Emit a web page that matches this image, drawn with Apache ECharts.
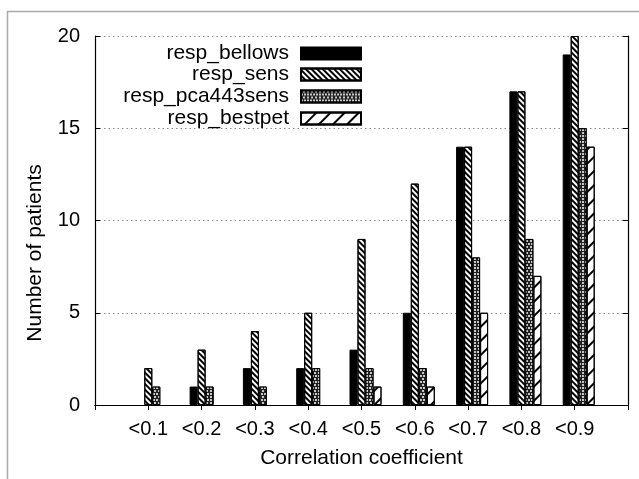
<!DOCTYPE html>
<html lang="en">
<head>
    <meta charset="UTF-8">
    <title>Correlation coefficient histogram</title>
    <script src="https://cdn.jsdelivr.net/npm/echarts@6/dist/echarts.min.js"></script>
</head>
<body style="margin:0">
    <div id="main" style="width: 639px; height: 479px;"></div>
</body>
<script>
    // empty slots at both ends keep the plot one slot wider on each side
    var categories = ['', '<0.1', '<0.2', '<0.3', '<0.4', '<0.5', '<0.6', '<0.7', '<0.8', '<0.9', ''];
    var names = ['resp_bellows', 'resp_sens', 'resp_pca443sens', 'resp_bestpet'];
    var bellows = [null, 0, 1, 2, 2, 3, 5, 14, 17, 19, null];
    var sens = [null, 2, 3, 4, 5, 9, 12, 14, 17, 20, null];
    var pca = [null, 1, 1, 1, 2, 2, 2, 8, 9, 15, null];
    var bestpet = [null, 0, 0, 0, 0, 1, 1, 5, 7, 14, null];
    var yTicks = [0, 5, 10, 15, 20];

    var font = '"Liberation Sans", Arial, sans-serif';
    var myChart = echarts.init(document.getElementById('main'));

    var styles = [
        { color: '#000', borderColor: '#000', borderWidth: 1 },
        { color: '#fff', borderColor: '#000', borderWidth: 1,
          decal: { symbol: 'rect', color: '#000', dashArrayX: [1, 0], dashArrayY: [1.2, 1.8], symbolSize: 1, rotation: Math.PI / 4 } },
        { color: '#222', borderColor: '#000', borderWidth: 1,
          decal: { symbol: 'circle', color: '#fff', dashArrayX: [[2, 1], [0, 1.5, 2, 0]], dashArrayY: [2, 0.7], symbolSize: 1, rotation: 0 } },
        { color: '#fff', borderColor: '#000', borderWidth: 1,
          decal: { symbol: 'rect', color: '#000', dashArrayX: [1, 0], dashArrayY: [1.1, 7.8], symbolSize: 1, rotation: -Math.PI / 4 } }
    ];
    var values = [bellows, sens, pca, bestpet];

    // first series is an empty spacer so the groups sit like the original
    var series = [{ name: 'spacer', type: 'bar', data: [], barWidth: 8, barGap: '0%' }];
    var legends = [];
    var rowTop = [43, 64, 86, 108];
    names.forEach(function (n, i) {
        series.push({
            name: n,
            type: 'bar',
            // zero counts draw nothing
            data: values[i].map(function (v) { return v === 0 ? null : v; }),
            barWidth: 8,
            barGap: '0%',
            itemStyle: styles[i]
        });
        legends.push({
            data: [n],
            right: 277,
            top: rowTop[i],
            padding: 0,
            itemWidth: 60,
            itemHeight: 12,
            icon: 'rect',
            selectedMode: false,
            textStyle: { fontFamily: font, fontSize: 21, color: '#000', padding: [0, 7, 0, 0] },
            align: 'right'
        });
    });

    var option = {
        animation: false,
        backgroundColor: '#fff',
        grid: { left: 95, right: 11, top: 36, bottom: 74 },
        legend: legends,
        xAxis: [{
            type: 'category',
            data: categories,
            boundaryGap: false,
            axisLine: { lineStyle: { color: '#000', width: 1.2 } },
            axisTick: { inside: true, length: 5, lineStyle: { color: '#000' } },
            axisLabel: { fontFamily: font, fontSize: 20, color: '#000', margin: 14, interval: 0 },
            name: 'Correlation coefficient',
            nameLocation: 'middle',
            nameGap: 43,
            nameTextStyle: { fontFamily: font, fontSize: 21, color: '#000', verticalAlign: 'top' }
        }, {
            type: 'category',
            data: categories,
            position: 'top',
            boundaryGap: false,
            axisLine: { lineStyle: { color: '#000', width: 1.2 } },
            axisTick: { inside: true, length: 5, lineStyle: { color: '#000' } },
            axisLabel: { show: false }
        }],
        yAxis: [{
            type: 'value',
            min: yTicks[0],
            max: yTicks[yTicks.length - 1],
            interval: 5,
            axisLine: { show: true, lineStyle: { color: '#000', width: 1.2 } },
            axisTick: { show: true, inside: true, length: 5, lineStyle: { color: '#000' } },
            axisLabel: { fontFamily: font, fontSize: 20, color: '#000', margin: 15 },
            splitLine: { lineStyle: { color: '#888', type: [1.5, 3], width: 1 } }
        }, {
            type: 'value',
            min: yTicks[0],
            max: yTicks[yTicks.length - 1],
            interval: 5,
            position: 'right',
            axisLine: { show: true, lineStyle: { color: '#000', width: 1.2 } },
            axisTick: { show: true, inside: true, length: 5, lineStyle: { color: '#000' } },
            axisLabel: { show: false },
            splitLine: { show: false }
        }],
        graphic: [{
            type: 'rect',
            shape: { x: 7.5, y: 11.5, width: 700, height: 600 },
            style: { fill: null, stroke: '#aaa', lineWidth: 1.5 },
            silent: true,
            z: -1
        }, {
            type: 'text',
            x: 35,
            y: 253,
            rotation: Math.PI / 2,
            style: {
                text: 'Number of patients',
                fontFamily: font,
                fontSize: 21,
                fill: '#000',
                align: 'center',
                verticalAlign: 'middle'
            }
        }],
        series: series
    };
    myChart.setOption(option);
</script>
</html>
